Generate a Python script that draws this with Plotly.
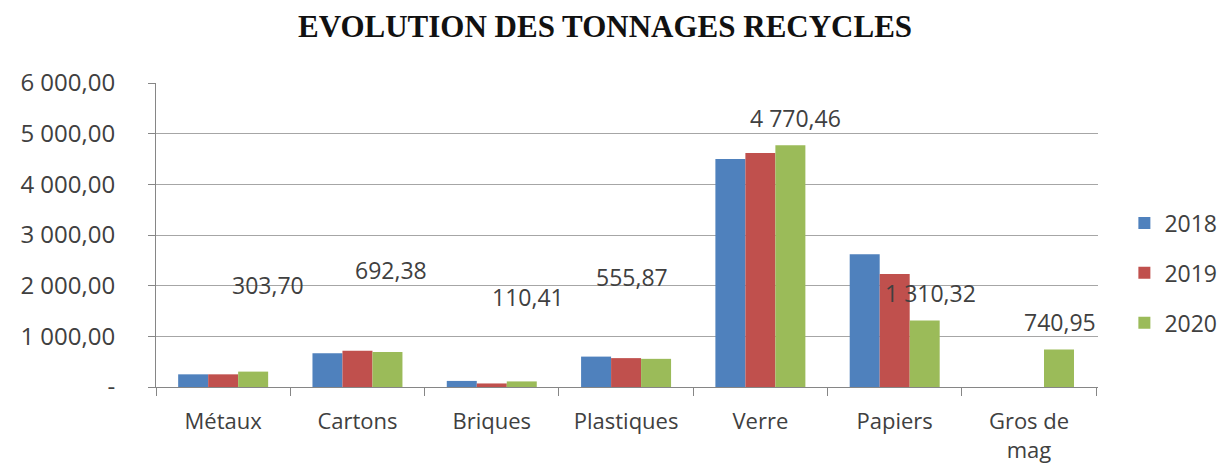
import plotly.graph_objects as go

categories = ["Métaux", "Cartons", "Briques", "Plastiques", "Verre", "Papiers", "Gros de<br>mag"]
v2018 = [250, 665, 120, 600, 4500, 2620, None]
v2019 = [250, 715, 70, 570, 4620, 2230, None]
v2020 = [303.70, 692.38, 110.41, 555.87, 4770.46, 1310.32, 740.95]
label2020 = ["303,70", "692,38", "110,41", "555,87", "4 770,46", "1 310,32", "740,95"]
label_yshift = [87, 82, 84, 82, 27, 28, 27]
label_xshift = [45, 34, 36, 6, 35, 36, 31]
ytick_vals = [0, 1000, 2000, 3000, 4000, 5000, 6000]
ytick_text = ["-", "1 000,00", "2 000,00", "3 000,00", "4 000,00", "5 000,00", "6 000,00"]

colors = {"2018": "#4F81BD", "2019": "#C0504D", "2020": "#9BBB59"}
font_fam = "Open Sans, Noto Sans, sans-serif"
txt_col = "#404040"

fig = go.Figure()
for name, vals in [("2018", v2018), ("2019", v2019), ("2020", v2020)]:
    fig.add_trace(go.Bar(x=categories, y=vals, name=name, marker_color=colors[name],
                         marker_line_width=0, legendgroup=name))

for c, v, t, ys, xs in zip(categories, v2020, label2020, label_yshift, label_xshift):
    fig.add_annotation(x=c, y=v, text=t, showarrow=False, xshift=xs, yshift=ys,
                       font=dict(size=23, color=txt_col, family=font_fam))

fig.update_layout(
    width=1231, height=469,
    paper_bgcolor="white", plot_bgcolor="white",
    margin=dict(l=144, r=141, t=75, b=90),
    title=dict(text="<b>EVOLUTION DES TONNAGES RECYCLES</b>", x=0.485, xanchor="center",
               y=0.961, yanchor="middle",
               font=dict(family="Liberation Serif, Times New Roman, serif", size=31, color="#111111")),
    barmode="group", bargap=0.33, bargroupgap=0,
    showlegend=True,
    legend=dict(x=1.028, y=0.375, xanchor="left", yanchor="middle",
                font=dict(size=23, color=txt_col, family=font_fam),
                tracegroupgap=17, itemwidth=30, borderwidth=0),
    xaxis=dict(showline=True, linecolor="#868686", linewidth=1, ticks="outside",
               tickson="boundaries", ticklen=8, tickcolor="#868686",
               ticklabelstandoff=15,
               tickfont=dict(size=22, color=txt_col, family=font_fam), showgrid=False),
    yaxis=dict(range=[0, 6000], tickvals=ytick_vals, ticktext=ytick_text,
               showline=True, linecolor="#868686", linewidth=1, ticks="outside", ticklen=7,
               tickcolor="#868686", showgrid=True, gridcolor="#a6a6a6", gridwidth=1,
               ticklabelstandoff=28,
               tickfont=dict(size=24, color=txt_col, family=font_fam), zeroline=False),
)

fig.write_html("out.html")
